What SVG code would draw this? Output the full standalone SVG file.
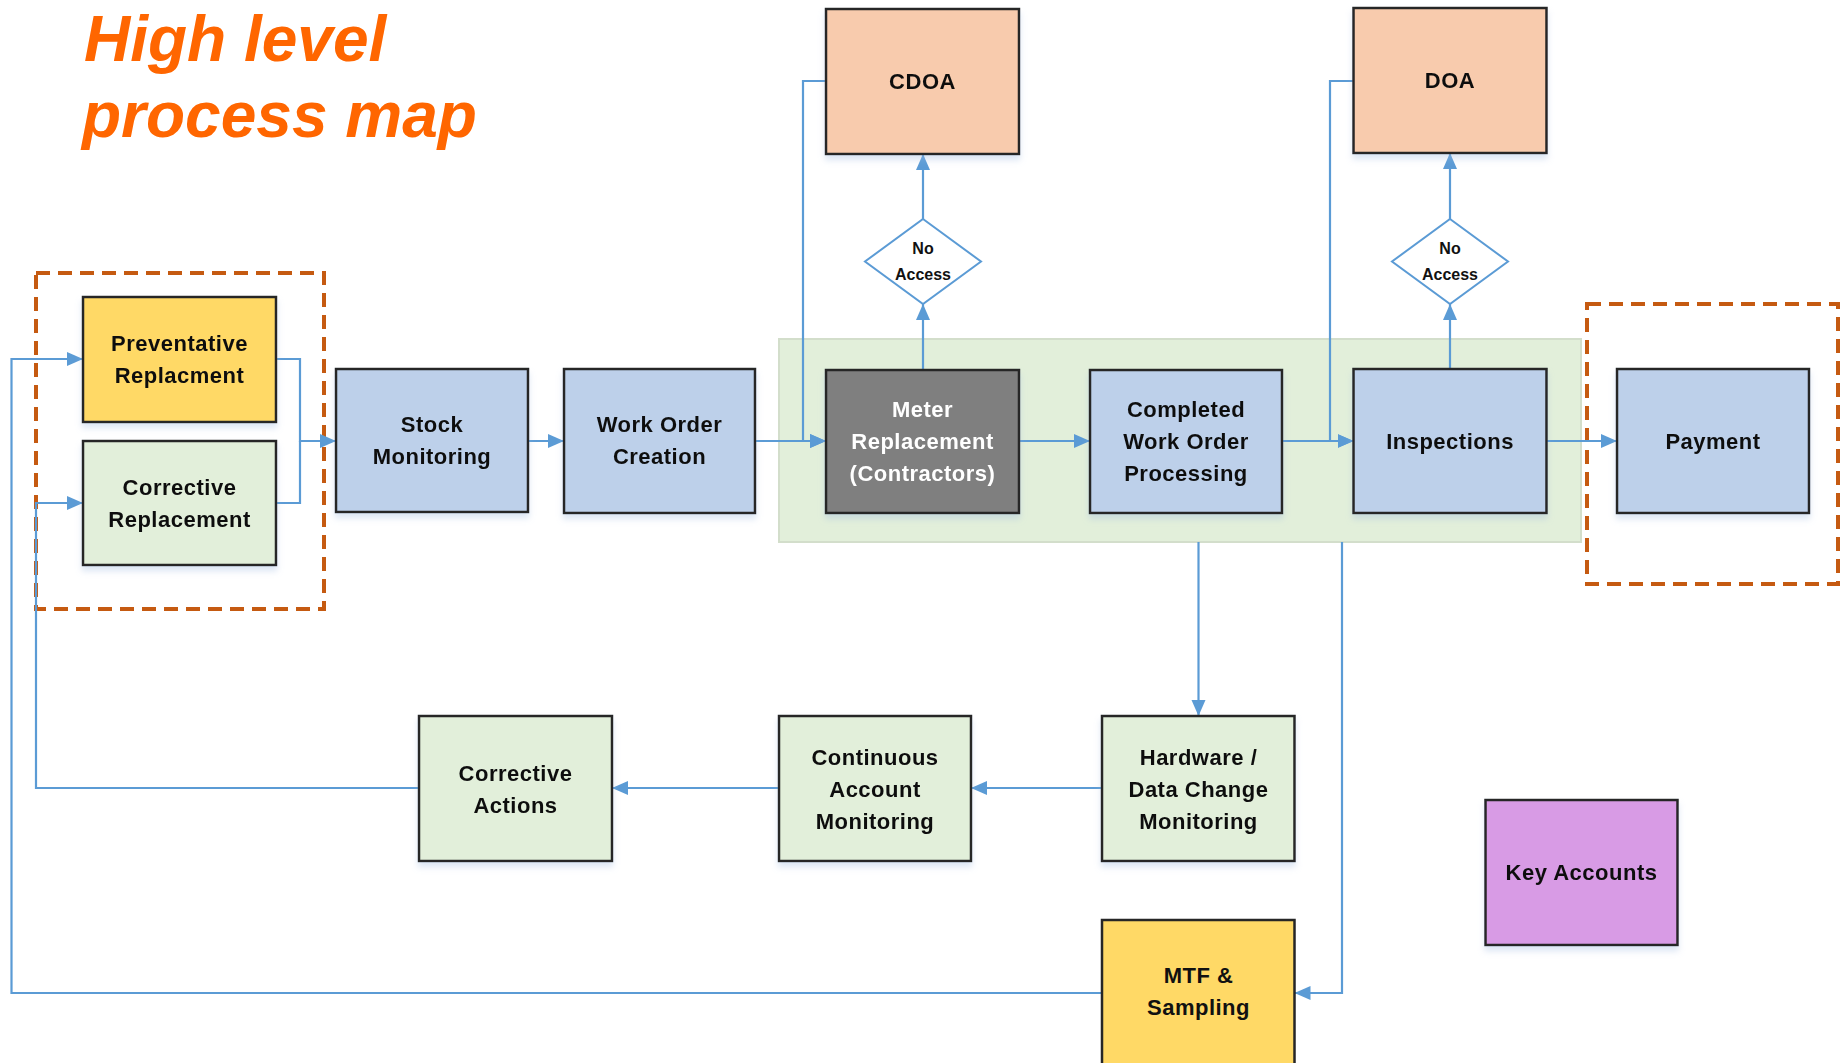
<svg xmlns="http://www.w3.org/2000/svg" width="1841" height="1063" viewBox="0 0 1841 1063">
<style>
.box{stroke:#262626;stroke-width:2.5}
.blue{fill:#BDD0EA}
.green{fill:#E2EFDA}
.yellow{fill:#FFD966}
.peach{fill:#F8CBAD}
.grey{fill:#7F7F7F}
.purple{fill:#D89BE5}
.dia{fill:#FFFFFF;stroke:#5B9BD5;stroke-width:2}
.t{font-family:"Liberation Sans",Arial,sans-serif;font-weight:bold;font-size:22px;fill:#111;text-anchor:middle;letter-spacing:0.5px}
.tw{fill:#FFFFFF}
.ts{font-size:16px;letter-spacing:0}
.c{fill:none;stroke:#5B9BD5;stroke-width:2.2}
.a{marker-end:url(#arr)}
.dash{fill:none;stroke:#C55A11;stroke-width:4;stroke-dasharray:14 8}
.title{font-family:"Liberation Sans",Arial,sans-serif;font-weight:bold;font-style:italic;font-size:64px;fill:#FF6600}
</style>
<defs>
<marker id="arr" markerUnits="userSpaceOnUse" markerWidth="17" markerHeight="15" refX="16" refY="7" orient="auto">
<path d="M0,0 L16,7 L0,14 z" fill="#5B9BD5"/>
</marker>
<filter id="sh" x="-10%" y="-10%" width="120%" height="125%">
<feDropShadow dx="0" dy="5" stdDeviation="3" flood-color="#9DB9E0" flood-opacity="0.35"/>
</filter>
</defs>

<g id="title">
<text class="title" x="84" y="61">High level</text>
<text class="title" x="82" y="137">process map</text>
</g>

<g id="groups">
<rect id="dashed-left" class="dash" x="36" y="273" width="288" height="336"/>
<rect id="dashed-right" class="dash" x="1587" y="304" width="251" height="280"/>
<rect id="contractor-zone" x="779" y="339" width="802" height="203" fill="#E2EFDA" stroke="#D3DECB" stroke-width="2"/>
</g>

<g id="connectors">
<path class="c a" d="M276,359 H300 V441 H336"/>
<path class="c" d="M276,503 H300 V441"/>
<path class="c a" d="M528,441 H564"/>
<path class="c a" d="M755,441 H826"/>
<path class="c a" d="M826,81 H803 V441 H826"/>
<path class="c a" d="M923,370 V304"/>
<path class="c a" d="M923,219 V154"/>
<path class="c a" d="M1019,441 H1090"/>
<path class="c a" d="M1282,441 H1353.5"/>
<path class="c a" d="M1353.5,81 H1330 V441 H1353.5"/>
<path class="c a" d="M1450,369 V304"/>
<path class="c a" d="M1450,219 V153"/>
<path class="c a" d="M1546.5,441 H1617"/>
<path class="c a" d="M1198.5,542 V716"/>
<path class="c a" d="M1102,788 H971"/>
<path class="c a" d="M779,788 H612"/>
<path class="c a" d="M419,788 H36 V503 H83"/>
<path class="c a" d="M1342,542 V993 H1294.5"/>
<path class="c a" d="M1102,993 H11.5 V359 H83"/>
</g>

<g id="preventative" filter="url(#sh)">
<rect class="box yellow" x="83" y="297" width="193" height="125"/>
<text class="t" x="179.5" y="351">Preventative</text>
<text class="t" x="179.5" y="383">Replacment</text>
</g>
<g id="corrective-replacement" filter="url(#sh)">
<rect class="box green" x="83" y="441" width="193" height="124"/>
<text class="t" x="179.5" y="495">Corrective</text>
<text class="t" x="179.5" y="527">Replacement</text>
</g>
<g id="stock-monitoring" filter="url(#sh)">
<rect class="box blue" x="336" y="369" width="192" height="143"/>
<text class="t" x="432" y="432">Stock</text>
<text class="t" x="432" y="464">Monitoring</text>
</g>
<g id="work-order-creation" filter="url(#sh)">
<rect class="box blue" x="564" y="369" width="191" height="144"/>
<text class="t" x="659.5" y="432">Work Order</text>
<text class="t" x="659.5" y="464">Creation</text>
</g>
<g id="meter-replacement" filter="url(#sh)">
<rect class="box grey" x="826" y="370" width="193" height="143"/>
<text class="t tw" x="922.5" y="417">Meter</text>
<text class="t tw" x="922.5" y="449">Replacement</text>
<text class="t tw" x="922.5" y="481">(Contractors)</text>
</g>
<g id="completed-work-order" filter="url(#sh)">
<rect class="box blue" x="1090" y="370" width="192" height="143"/>
<text class="t" x="1186" y="417">Completed</text>
<text class="t" x="1186" y="449">Work Order</text>
<text class="t" x="1186" y="481">Processing</text>
</g>
<g id="inspections" filter="url(#sh)">
<rect class="box blue" x="1353.5" y="369" width="193" height="144"/>
<text class="t" x="1450" y="449">Inspections</text>
</g>
<g id="payment" filter="url(#sh)">
<rect class="box blue" x="1617" y="369" width="192" height="144"/>
<text class="t" x="1713" y="449">Payment</text>
</g>
<g id="cdoa" filter="url(#sh)">
<rect class="box peach" x="826" y="9" width="193" height="145"/>
<text class="t" x="922.5" y="89">CDOA</text>
</g>
<g id="doa" filter="url(#sh)">
<rect class="box peach" x="1353.5" y="8" width="193" height="145"/>
<text class="t" x="1450" y="88">DOA</text>
</g>
<g id="no-access-1">
<polygon class="dia" points="923,219 981,261.5 923,304 865,261.5"/>
<text class="t ts" x="923" y="254">No</text>
<text class="t ts" x="923" y="280">Access</text>
</g>
<g id="no-access-2">
<polygon class="dia" points="1450,219 1508,261.5 1450,304 1392,261.5"/>
<text class="t ts" x="1450" y="254">No</text>
<text class="t ts" x="1450" y="280">Access</text>
</g>
<g id="hardware-data-change" filter="url(#sh)">
<rect class="box green" x="1102" y="716" width="192.5" height="145"/>
<text class="t" x="1198.5" y="765">Hardware /</text>
<text class="t" x="1198.5" y="797">Data Change</text>
<text class="t" x="1198.5" y="829">Monitoring</text>
</g>
<g id="continuous-account" filter="url(#sh)">
<rect class="box green" x="779" y="716" width="192" height="145"/>
<text class="t" x="875" y="765">Continuous</text>
<text class="t" x="875" y="797">Account</text>
<text class="t" x="875" y="829">Monitoring</text>
</g>
<g id="corrective-actions" filter="url(#sh)">
<rect class="box green" x="419" y="716" width="193" height="145"/>
<text class="t" x="515.5" y="781">Corrective</text>
<text class="t" x="515.5" y="813">Actions</text>
</g>
<g id="key-accounts" filter="url(#sh)">
<rect class="box purple" x="1485.5" y="800" width="192" height="145"/>
<text class="t" x="1581.5" y="880">Key Accounts</text>
</g>
<g id="mtf-sampling">
<rect class="box yellow" x="1102" y="920" width="192.5" height="160"/>
<text class="t" x="1198.5" y="983">MTF &amp;</text>
<text class="t" x="1198.5" y="1015">Sampling</text>
</g>
</svg>
